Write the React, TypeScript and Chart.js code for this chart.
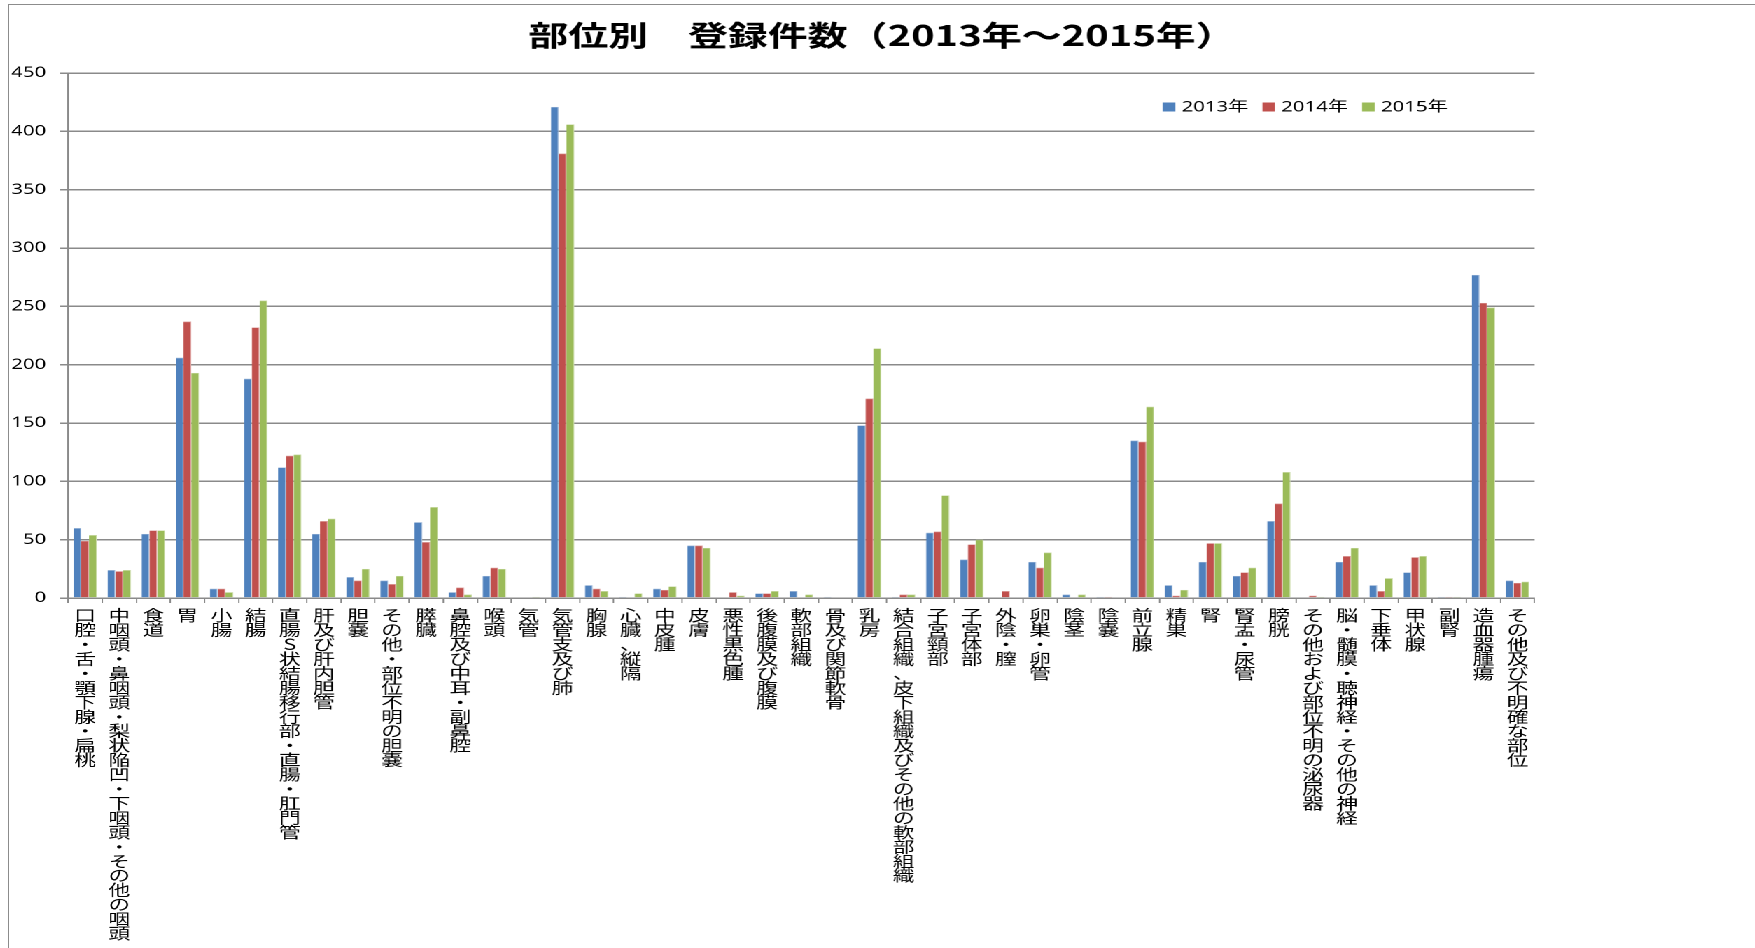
import React, { useEffect, useRef } from "react";
import { Chart, registerables } from "chart.js";

Chart.register(...registerables);

// ---------- data ----------
const categories: string[] = [
  "口腔・舌・顎下腺・扁桃",
  "中咽頭・鼻咽頭・梨状陥凹・下咽頭・その他の咽頭",
  "食道",
  "胃",
  "小腸",
  "結腸",
  "直腸S状結腸移行部・直腸・肛門管",
  "肝及び肝内胆管",
  "胆嚢",
  "その他・部位不明の胆嚢",
  "膵臓",
  "鼻腔及び中耳・副鼻腔",
  "喉頭",
  "気管",
  "気管支及び肺",
  "胸腺",
  "心臓、縦隔",
  "中皮腫",
  "皮膚",
  "悪性黒色腫",
  "後腹膜及び腹膜",
  "軟部組織",
  "骨及び関節軟骨",
  "乳房",
  "結合組織、皮下組織及びその他の軟部組織",
  "子宮頸部",
  "子宮体部",
  "外陰・膣",
  "卵巣・卵管",
  "陰茎",
  "陰嚢",
  "前立腺",
  "精巣",
  "腎",
  "腎盂・尿管",
  "膀胱",
  "その他および部位不明の泌尿器",
  "脳・髄膜・聴神経・その他の神経",
  "下垂体",
  "甲状腺",
  "副腎",
  "造血器腫瘍",
  "その他及び不明確な部位",
];

const seriesNames = ["2013年", "2014年", "2015年"];

const values2013 = [60, 24, 55, 206, 8, 188, 112, 55, 18, 15, 65, 5, 19, 0, 421, 11, 1, 8, 45, 0, 4, 6, 1, 148, 1, 56, 33, 0, 31, 3, 1, 135, 11, 31, 19, 66, 0, 31, 11, 22, 1, 277, 15];
const values2014 = [49, 23, 58, 237, 8, 232, 122, 66, 15, 12, 48, 9, 26, 0, 381, 8, 0, 7, 45, 5, 4, 0, 0, 171, 3, 57, 46, 6, 26, 0, 1, 134, 2, 47, 22, 81, 2, 36, 6, 35, 1, 253, 13];
const values2015 = [54, 24, 58, 193, 5, 255, 123, 68, 25, 19, 78, 3, 25, 1, 406, 6, 4, 10, 43, 2, 6, 3, 0, 214, 3, 88, 50, 0, 39, 3, 0, 164, 7, 47, 26, 108, 1, 43, 17, 36, 1, 249, 14];

const yMin = 0;
const yMax = 450;
const yStep = 50;

const titleText = "部位別　登録件数（2013年～2015年）";

// ---------- styling ----------
const SX = 1.4; // horizontal stretch of the reference picture
const PAGE_W = 1755;
const PAGE_H = 948;
const W0 = PAGE_W / SX;
const COLORS = ["#4F81BD", "#C0504D", "#9BBB59"];
const EDGE = ["#A9C0DE", "#E0A8A6", "#CDDDAC"];
const GRID = "#8a8a8a";
const CJK = "'Noto Sans CJK JP', 'Noto Sans', sans-serif";
const LATIN = "'Noto Sans', 'Noto Sans CJK JP', sans-serif";

const legendPlugin = {
  id: "insideLegend",
  afterDraw(chart: any) {
    const { ctx, chartArea } = chart;
    ctx.save();
    ctx.font = `14.5px ${LATIN}`;
    ctx.textBaseline = "middle";
    ctx.textAlign = "left";
    const sq = 9;
    const gap1 = 4.5;
    const gap2 = 10;
    const items = chart.data.datasets.map((d: any) => ({ text: d.label, color: d.backgroundColor }));
    let total = 0;
    items.forEach((it: any, i: number) => {
      total += sq + gap1 + ctx.measureText(it.text).width + (i < items.length - 1 ? gap2 : 0);
    });
    let x = chartArea.right - 62 - total;
    const y = chartArea.top + 34;
    items.forEach((it: any) => {
      ctx.fillStyle = it.color;
      ctx.fillRect(x, y - sq / 2, sq, sq);
      x += sq + gap1;
      ctx.fillStyle = "#000";
      ctx.fillText(it.text, x, y + 0.5);
      x += ctx.measureText(it.text).width + gap2;
    });
    ctx.restore();
  },
};

export default function App() {
  const ref = useRef<HTMLCanvasElement>(null);

  useEffect(() => {
    if (!ref.current) return;
    const chart = new Chart(ref.current, {
      type: "bar",
      data: {
        labels: categories.map((c) => Array.from(c)),
        datasets: [values2013, values2014, values2015].map((vals, i) => ({
          label: seriesNames[i],
          data: vals,
          backgroundColor: COLORS[i],
          borderColor: EDGE[i],
          borderWidth: { top: 0.6, right: 0.6, left: 0, bottom: 0 },
          borderSkipped: "bottom",
          categoryPercentage: 0.685,
          barPercentage: 1.0,
        })),
      },
      options: {
        animation: false,
        responsive: true,
        maintainAspectRatio: false,
        devicePixelRatio: 2,
        layout: { padding: { left: 6, right: 0, top: 0, bottom: 0 } },
        plugins: {
          legend: { display: false },
          tooltip: { enabled: false },
          title: {
            display: true,
            text: titleText,
            color: "#000",
            font: { family: CJK, size: 28.5, weight: "bold", lineHeight: 1.2 },
            padding: { top: 18, bottom: 20.8 },
          },
        },
        scales: {
          x: {
            grid: {
              display: true,
              drawOnChartArea: false,
              drawTicks: true,
              tickLength: 5,
              offset: true,
              color: GRID,
              lineWidth: 1,
            },
            border: { display: true, color: GRID, width: 1.5 },
            ticks: {
              autoSkip: false,
              maxRotation: 0,
              minRotation: 0,
              padding: 5,
              color: "#000",
              font: { family: CJK, size: 15.5, lineHeight: "14.45px" },
            },
            afterFit: (s: any) => {
              s.height = PAGE_H - 598;
            },
          },
          y: {
            min: yMin,
            max: yMax,
            ticks: {
              stepSize: yStep,
              padding: 10,
              color: "#000",
              font: { family: LATIN, size: 14.5 },
            },
            grid: { color: GRID, lineWidth: 1.5, tickLength: 5.7, drawTicks: true },
            border: { display: true, color: GRID, width: 1.1 },
            afterFit: (s: any) => {
              s.width = 48.57 - 6;
            },
          },
          yR: {
            position: "right",
            display: true,
            grid: { display: false },
            border: { display: false },
            ticks: { display: false },
            afterFit: (s: any) => {
              s.width = W0 - 1534 / SX;
            },
          },
        },
      },
      plugins: [legendPlugin],
    } as any);
    return () => chart.destroy();
  }, []);

  return (
    <>
      <div
        style={{
          position: "fixed",
          left: 0,
          top: 0,
          width: W0,
          height: PAGE_H,
          transform: `scaleX(${SX})`,
          transformOrigin: "0 0",
          background: "#fff",
        }}
      >
        <canvas ref={ref} />
      </div>
      <div
        style={{
          position: "fixed",
          left: 8,
          top: 4,
          right: 0,
          bottom: 0,
          borderLeft: "1.5px solid #8c8c8c",
          borderTop: "1.5px solid #8c8c8c",
          pointerEvents: "none",
        }}
      />
    </>
  );
}
